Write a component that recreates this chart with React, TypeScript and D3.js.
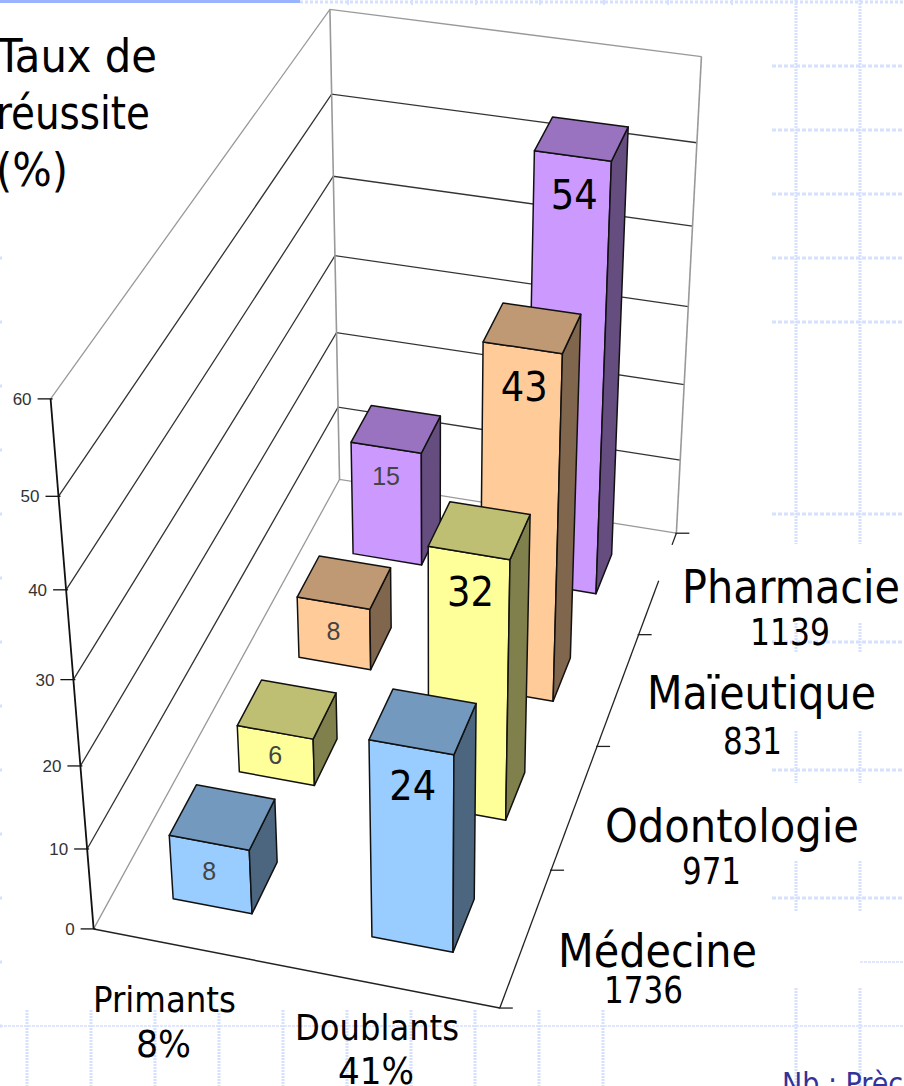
import React from "react";
import * as d3 from "d3";

// ---- data ----
const seriesNames = ["Primants", "Doublants"];
const categories = ["Médecine", "Odontologie", "Maïeutique", "Pharmacie"];
const primants = [8, 6, 8, 15];
const doublants = [24, 32, 43, 54];
const valueTicks = [0, 10, 20, 30, 40, 50, 60];
const frontColors = ["#99CCFF", "#FFFF99", "#FFCC99", "#CC99FF"];
const topColors = ["#7399BF", "#BFBF73", "#BF9973", "#9973BF"];
const sideColors = ["#4D667F", "#80804D", "#80664D", "#664D80"];

// text blocks: [text, left x, baseline y, font size, drawn width]
const titleLines: [string, number, number, number, number][] = [
  ["Taux de", -3, 72, 47, 160],
  ["réussite", -4, 129, 47, 154],
  ["(%)", -4, 186, 47, 72],
];
const catLabels: [string, number, number, number, number][] = [
  ["Pharmacie", 682, 603, 47, 218],
  ["1139", 750, 645, 37, 80],
  ["Maïeutique", 647, 709, 47, 229],
  ["831", 723, 754, 37, 59],
  ["Odontologie", 605, 842, 47, 254],
  ["971", 682, 884, 37, 59],
  ["Médecine", 558, 967, 47, 199],
  ["1736", 604, 1003, 37, 79],
];
const seriesLabels: [string, number, number, number, number][] = [
  ["Primants", 93, 1012, 36, 143],
  ["8%", 136, 1057, 37, 55],
  ["Doublants", 295, 1040, 36, 164],
  ["41%", 338, 1084, 37, 76],
];

// background template pattern
const bgRight = [66, 130, 194, 258, 322, 514, 642, 770, 898];
const bgBottomX = d3.range(0, 10).map((k) => 27 + 64 * k);
const bgUpperSegs: [number, number][] = [[0, 544], [623, 652], [731, 783], [861, 911], [988, 1086]];
const bgLeftDots = d3.range(0, 13).map((k) => 258 + 64 * k);
const bgTopPips = [348, 412, 476, 540, 604, 668, 732];

// ---- projection fitted on the box corners seen in the picture ----
const anchors: [number, number, number, number, number][] = [
  [0, 0, 0, 92, 928],
  [0, 0, 1, 52, 400],
  [0, 0, 0.5, 73, 680],
  [1, 0, 0, 497, 1008],
  [1, 1, 0, 674, 534],
  [1, 1, 0.5, 687, 307],
  [1, 1, 1, 701, 56],
  [0, 1, 0, 340, 479],
  [0, 1, 0.5, 335, 257],
  [0, 1, 1, 330, 8],
  [1, 0.25, 0, 550, 870],
  [1, 0.5, 0, 605, 746],
];

function fit() {
  const rows: number[][] = [];
  const rhs: number[] = [];
  anchors.forEach(([X, Y, Z, u0, v0]) => {
    const u = u0 / 1000, v = v0 / 1000;
    rows.push([X, Y, Z, 1, 0, 0, 0, 0, -u * X, -u * Y, -u * Z]); rhs.push(u);
    rows.push([0, 0, 0, 0, X, Y, Z, 1, -v * X, -v * Y, -v * Z]); rhs.push(v);
  });
  const n = 11;
  const A = d3.range(n).map((i) => [
    ...d3.range(n).map((j) => d3.sum(rows, (r) => r[i] * r[j])),
    d3.sum(rows, (r, k) => r[i] * rhs[k]),
  ]);
  for (let c = 0; c < n; c++) {
    let p = c;
    for (let r = c + 1; r < n; r++) if (Math.abs(A[r][c]) > Math.abs(A[p][c])) p = r;
    [A[c], A[p]] = [A[p], A[c]];
    for (let r = 0; r < n; r++) {
      if (r === c) continue;
      const f = A[r][c] / A[c][c];
      for (let k = c; k <= n; k++) A[r][k] -= f * A[c][k];
    }
  }
  return A.map((r, i) => r[n] / r[i]);
}
const P = fit();
type Pt = [number, number];
const project = (x: number, y: number, z: number): Pt => {
  const w = P[8] * x + P[9] * y + P[10] * z + 1;
  return [
    (1000 * (P[0] * x + P[1] * y + P[2] * z + P[3])) / w,
    (1000 * (P[4] * x + P[5] * y + P[6] * z + P[7])) / w,
  ];
};

const xScale = d3.scaleBand<string>().domain(seriesNames).range([0, 1]).paddingInner(0.6).paddingOuter(0.3).align(0.487);
const depthScale = d3.scaleBand<string>().domain(categories).range([0, 1]).paddingInner(0.61).paddingOuter(0.305);
const depthTick = d3.scaleLinear().domain([0, categories.length]).range([0, 1]);
const zScale = d3.scaleLinear().domain([0, 60]).range([0, 1]);
const poly = d3.line<Pt>().curve(d3.curveLinearClosed);
const seg = d3.line<Pt>();

const labelFont = "'DejaVu Sans Condensed', 'DejaVu Sans', sans-serif";
const tickFont = "'Liberation Sans', Arial, sans-serif";
const edge = { stroke: "#111", strokeWidth: 1.5, strokeLinejoin: "round" as const };

function Bar({ s, c, value, big }: { s: number; c: number; value: number; big: boolean }) {
  const x0 = xScale(seriesNames[s])!, x1 = x0 + xScale.bandwidth();
  const d0 = depthScale(categories[c])!, d1 = d0 + depthScale.bandwidth();
  const z = zScale(value);
  const front = [project(x0, d0, 0), project(x1, d0, 0), project(x1, d0, z), project(x0, d0, z)];
  const side = [project(x1, d0, 0), project(x1, d1, 0), project(x1, d1, z), project(x1, d0, z)];
  const top = [project(x0, d0, z), project(x1, d0, z), project(x1, d1, z), project(x0, d1, z)];
  const [tx, ty] = project((x0 + x1) / 2, d0, z);
  const [, by] = project((x0 + x1) / 2, d0, 0);
  const smallCenter = Math.min((ty + by) / 2, ty + 28);
  return (
    <g>
      <path d={poly(front)!} fill={frontColors[c]} {...edge} />
      <path d={poly(side)!} fill={sideColors[c]} {...edge} />
      <path d={poly(top)!} fill={topColors[c]} {...edge} />
      <text
        x={big ? tx + 1.5 : tx}
        y={big ? ty + 53 : smallCenter + 9}
        textAnchor="middle"
        fontFamily={big ? labelFont : tickFont}
        fontSize={big ? 41 : 25}
        fill={big ? "#000" : "#444"}
      >
        {value}
      </text>
    </g>
  );
}

function TextBlock({ items, fill = "#000" }: { items: [string, number, number, number, number][]; fill?: string }) {
  return (
    <g fontFamily={labelFont} fill={fill}>
      {items.map(([t, x, y, fs, w]) => (
        <text key={t} x={x} y={y} fontSize={fs} textLength={w} lengthAdjust="spacingAndGlyphs">
          {t}
        </text>
      ))}
    </g>
  );
}

export default function App() {
  const order = d3.range(categories.length).reverse();
  return (
    <svg
      width={904}
      height={1086}
      viewBox="0 0 904 1086"
      style={{ position: "absolute", left: 0, top: 0, display: "block", background: "#fff", overflow: "hidden" }}
    >
      {/* slide template */}
      <g fill="none" stroke="#D6E0FF">
        <line x1={0} x2={300} y1={1.5} y2={1.5} stroke="#99B3FF" strokeWidth={3} />
        <line x1={300} x2={904} y1={2} y2={2} strokeWidth={3} strokeDasharray="3 2" />
        {bgTopPips.map((x) => <line key={x} x1={x} x2={x} y1={0} y2={5} strokeWidth={2} />)}
        {bgRight.map((y) => (
          <line key={y} x1={772} x2={904} y1={y} y2={y} strokeWidth={3} strokeDasharray="4 2" />
        ))}
        <line x1={860} x2={904} y1={962} y2={962} strokeWidth={1.5} strokeDasharray="3 1" />
        <line x1={0} x2={904} y1={1026} y2={1026} strokeWidth={1.5} strokeDasharray="3 1" />
        {[796, 860].map((x) =>
          bgUpperSegs.map(([a, b]) => (
            <line key={`${x}-${a}`} x1={x} x2={x} y1={a} y2={b} strokeWidth={3} strokeDasharray="2 1" />
          ))
        )}
        {bgBottomX.map((x) => (
          <line key={x} x1={x} x2={x} y1={1010} y2={1086} strokeWidth={3} strokeDasharray="2 1" />
        ))}
        {bgLeftDots.map((y) => <line key={y} x1={0} x2={2} y1={y} y2={y} strokeWidth={3} />)}
      </g>

      {/* walls */}
      {valueTicks.map((v) => {
        const z = zScale(v);
        const isEdge = v === 0 || v === 60;
        return (
          <path
            key={v}
            d={seg([project(0, 0, z), project(0, 1, z), project(1, 1, z)])!}
            fill="none"
            stroke={isEdge ? "#999" : "#333"}
            strokeWidth={1.3}
          />
        );
      })}
      <path d={seg([project(0, 1, 0), project(0, 1, 1)])!} stroke="#999" strokeWidth={1.6} fill="none" />
      <path d={seg([project(1, 1, 0), project(1, 1, 1)])!} stroke="#999" strokeWidth={1.6} fill="none" />

      {/* axes */}
      <path d={seg([project(0, 0, 0), project(0, 0, 1)])!} stroke="#111" strokeWidth={1.8} fill="none" />
      <path d={seg([project(0, 0, 0), project(1, 0, 0)])!} stroke="#222" strokeWidth={1.5} fill="none" />
      <path d={seg([project(1, 0, 0), project(1, 0.88, 0)])!} stroke="#222" strokeWidth={1.3} fill="none" />
      <path d={seg([project(1, 0.97, 0), project(1, 1, 0)])!} stroke="#222" strokeWidth={1.3} fill="none" />
      {valueTicks.map((v) => {
        const [x, y] = project(0, 0, zScale(v));
        return (
          <g key={v}>
            <line x1={x - 13} x2={x + 2} y1={y} y2={y} stroke="#111" strokeWidth={1.3} />
            <text x={x - 19} y={y + 6} textAnchor="end" fontFamily={tickFont} fontSize={17} fill="#333">
              {v}
            </text>
          </g>
        );
      })}
      {d3.range(categories.length + 1).map((i) => {
        const [x, y] = project(1, depthTick(i), 0);
        return <line key={i} x1={x - 1} x2={x + 13} y1={y} y2={y} stroke="#222" strokeWidth={1.3} />;
      })}

      {/* bars, back to front */}
      {order.map((c) => (
        <g key={c}>
          <Bar s={0} c={c} value={primants[c]} big={false} />
          <Bar s={1} c={c} value={doublants[c]} big={true} />
        </g>
      ))}

      <TextBlock items={titleLines} />
      <TextBlock items={catLabels} />
      <TextBlock items={seriesLabels} />
      <text x={782} y={1094} fontFamily={labelFont} fontSize={30} fill="#333399">Nb : Prèc</text>
    </svg>
  );
}
